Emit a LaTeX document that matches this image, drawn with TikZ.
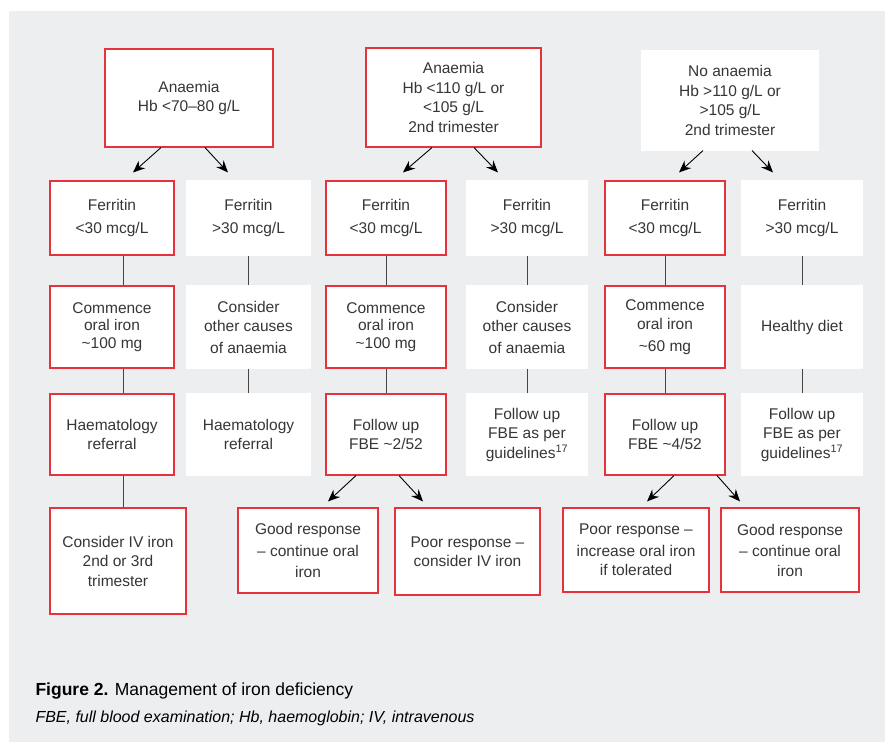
\documentclass[tikz,border=0pt]{standalone}
\usepackage{fontspec}
\setmainfont{Liberation Sans}
\usetikzlibrary{arrows.meta, positioning}
\definecolor{cred}{HTML}{E5323B}
\definecolor{cpanel}{HTML}{EDEEF0}
\definecolor{ctext}{HTML}{363636}
\definecolor{cline}{HTML}{454545}
\tikzset{
  every picture/.style={line width=1pt},
  box/.style={draw=#1, fill=white, line width=1.1pt, align=center, inner sep=2pt, text=ctext,
    font=\fontsize{15.5}{19.5}\selectfont},
  box/.default=cred,
  plain/.style={box=white},
  arrow/.style={-{Stealth[length=12pt, width=10pt, inset=4pt]}, draw=black, line width=0.9pt},
  link/.style={draw=cline, line width=1pt},
  caption/.style={anchor=base west, inner sep=0pt, text=black, font=\fontsize{17.5}{20}\selectfont},
}
\begin{document}
\begin{tikzpicture}[x=1pt, y=-1pt]
  \useasboundingbox (0,0) rectangle (885,742);
  \fill[cpanel] (9,11) rectangle (885,742);
  % top row: the three starting Hb ranges
  \node[box, minimum width=168pt, minimum height=98pt] (anA) at (189,98) {Anaemia\\Hb <70--80 g/L};
  \node[box, minimum width=175pt, minimum height=99pt] (anB) at (453.5,97.5) {Anaemia\\Hb <110 g/L or\\<105 g/L\\2nd trimester};
  \node[plain, minimum width=176pt, minimum height=99pt] (anC) at (730,100.5) {No anaemia\\Hb >110 g/L or\\>105 g/L\\2nd trimester};
  % ferritin split under each range
  \foreach \n/\x/\w/\c/\s in {1/112/124/cred/<, 2/248.5/123/white/>, 3/386/120/cred/<,
                              4/527/120/white/>, 5/665/120/cred/<, 6/802/120/white/>}
    \node[box=\c, minimum width=\w pt, minimum height=74pt] (fer\n) at (\x,218) {Ferritin\\[3pt]\s30 mcg/L};
  % what to start with
  \node[box, minimum width=124pt, minimum height=82pt] (treat1) at (112,327) {Commence\\[-2pt]oral iron\\[-2pt]\textasciitilde100 mg};
  \node[plain, minimum width=123pt, minimum height=82pt] (treat2) at (248.5,327) {Consider\\other causes\\[2pt]of anaemia};
  \node[box, minimum width=120pt, minimum height=82pt] (treat3) at (386,327) {Commence\\[-2pt]oral iron\\[-2pt]\textasciitilde100 mg};
  \node[plain, minimum width=120pt, minimum height=82pt] (treat4) at (527,327) {Consider\\other causes\\[2pt]of anaemia};
  \node[box, minimum width=120pt, minimum height=82pt] (treat5) at (665,327) {Commence\\oral iron\\[2pt]\textasciitilde60 mg};
  \node[plain, minimum width=120pt, minimum height=82pt] (treat6) at (802,327) {Healthy diet};
  % referral or follow up
  \node[box, minimum width=124pt, minimum height=81pt] (check1) at (112,434.5) {Haematology\\referral};
  \node[plain, minimum width=123pt, minimum height=81pt] (check2) at (248.5,434.5) {Haematology\\referral};
  \node[box, minimum width=120pt, minimum height=81pt] (check3) at (386,434.5) {Follow up\\FBE \textasciitilde2/52};
  \node[plain, minimum width=121pt, minimum height=81pt] (check4) at (527,434.5) {Follow up\\FBE as per\\guidelines\textsuperscript{17}};
  \node[box, minimum width=120pt, minimum height=81pt] (check5) at (665,434.5) {Follow up\\FBE \textasciitilde4/52};
  \node[plain, minimum width=120pt, minimum height=81pt] (check6) at (802,434.5) {Follow up\\FBE as per\\guidelines\textsuperscript{17}};
  % outcomes
  \node[box, minimum width=136pt, minimum height=106pt] (iv1) at (118,561) {Consider IV iron\\2nd or 3rd\\trimester};
  \node[box, minimum width=140pt, minimum height=85pt] (good3) at (308,550.5) {Good response\\[2pt]-- continue oral\\[2pt]iron};
  \node[box, minimum width=145pt, minimum height=87pt] (poor3) at (467.5,551.5) {Poor response --\\consider IV iron};
  \node[box, minimum width=146pt, minimum height=84pt] (poor5) at (636,550) {Poor response --\\[2pt]increase oral iron\\if tolerated};
  \node[box, minimum width=138pt, minimum height=84pt] (good5) at (790,550) {Good response\\[2pt]-- continue oral\\iron};
  % plain links down each column
  \draw[link] ([xshift=11pt]fer1.south) -- ([xshift=11pt]treat1.north);
  \draw[link] ([xshift=11pt]treat1.south) -- ([xshift=11pt]check1.north);
  \draw[link] ([xshift=11pt]check1.south) -- ([xshift=5pt]iv1.north);
  \foreach \n in {2,...,6} {
    \draw[link] (fer\n.south) -- (fer\n.south |- treat\n.north);
    \draw[link] (treat\n.south) -- (treat\n.south |- check\n.north);
  }
  % split arrows
  \draw[arrow] ([xshift=-28pt]anA.south) -- ([xshift=21pt, yshift=8pt]fer1.north);
  \draw[arrow] ([xshift=16pt]anA.south) -- ([xshift=-20.5pt, yshift=8pt]fer2.north);
  \draw[arrow] ([xshift=-21.5pt]anB.south) -- ([xshift=17pt, yshift=8pt]fer3.north);
  \draw[arrow] ([xshift=20.5pt]anB.south) -- ([xshift=-29pt, yshift=8pt]fer4.north);
  \draw[arrow] ([xshift=-27pt]anC.south) -- ([xshift=14pt, yshift=8pt]fer5.north);
  \draw[arrow] ([xshift=22pt]anC.south) -- ([xshift=-29pt, yshift=8pt]fer6.north);
  \draw[arrow] ([xshift=-30pt]check3.south) -- ([xshift=20pt, yshift=6pt]good3.north);
  \draw[arrow] ([xshift=13pt]check3.south) -- ([xshift=-44.5pt, yshift=6pt]poor3.north);
  \draw[arrow] ([xshift=9pt]check5.south) -- ([xshift=11pt, yshift=6pt]poor5.north);
  \draw[arrow] ([xshift=52pt]check5.south) -- ([xshift=-50pt, yshift=6pt]good5.north);
  % caption
  \node[caption] (title) at (35,695) {\textbf{Figure 2.} Management of iron deficiency};
  \node[caption, font=\fontsize{16}{18}\selectfont\itshape] (key) at (35,722) {FBE, full blood examination; Hb, haemoglobin; IV, intravenous};
\end{tikzpicture}
\end{document}
